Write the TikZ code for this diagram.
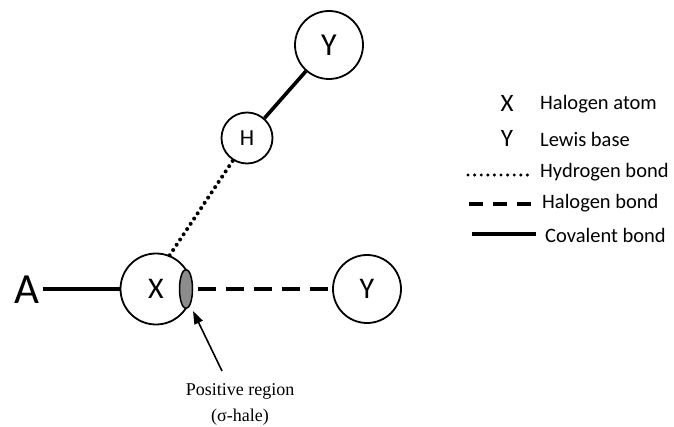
\documentclass[tikz,border=0pt]{standalone}
\usepackage{fontspec}
\setmainfont{Liberation Serif}
\newfontfamily\lbl{Carlito}
\usetikzlibrary{shapes.geometric,arrows.meta}
\begin{document}
\begin{tikzpicture}[x=1pt,y=-1pt,
  atom/.style={circle,draw,line width=1.8pt,inner sep=0pt,font=\lbl\fontsize{30}{32}\selectfont},
  bond/.style={line width=3.6pt},
  hbond/.style={line width=4pt,dash pattern=on 0pt off 6.3pt,line cap=round},
  xbond/.style={line width=3.8pt,dash pattern=on 18pt off 10pt},
  legtext/.style={anchor=west,font=\lbl\fontsize{20.5}{22}\selectfont,inner sep=0pt},
  legsym/.style={font=\lbl\fontsize{25}{27}\selectfont,inner sep=0pt}]
\useasboundingbox (0,0) rectangle (674,427);

% atoms
\node[font=\lbl\fontsize{43}{45}\selectfont,inner sep=0pt] (A) at (27,290) {A};
\node[atom,minimum size=71pt] (X) at (156,289) {X};
\node[atom,minimum size=68pt] (Yr) at (367,289) {Y};
\node[atom,minimum size=51pt,font=\lbl\fontsize{23}{25}\selectfont] (H) at (247,138) {H};
\node[atom,minimum size=68pt,font=\lbl\fontsize{32}{34}\selectfont] (Yt) at (329,45) {Y};

% sigma hole
\node[ellipse,draw,line width=1.5pt,fill=black!45,minimum width=13pt,minimum height=39pt,inner sep=0pt] (hole) at (186,289) {};

% bonds
\coordinate (Aend) at ([xshift=3pt]A.east);
\draw[bond] (Aend |- X.west) -- (X.west);
\draw[hbond] (X.68) -- (H.238);
\draw[bond] (H) -- (Yt);
\draw[xbond] ([xshift=5pt]hole.east) -- (Yr.west);

% pointer to the positive region
\coordinate (tail) at (222,371);
\coordinate (tip) at (193,311);
\draw[line width=1.6pt,-{Triangle[length=13pt,width=9pt]}] (tail) -- (tip);
\node[font=\fontsize{18}{20}\selectfont] (cap1) at (240,391) {Positive region};
\node[font=\fontsize{18}{20}\selectfont] (cap2) at (240,417) {(σ-hale)};

% legend
\node[legsym] (lx) at (507,103) {X};
\node[legtext] (tx) at (540,104) {Halogen atom};
\node[legsym] (ly) at (507,138) {Y};
\node[legtext] (ty) at (540,139) {Lewis base};
\node[legtext] (th) at (540,172) {Hydrogen bond};
\node[legtext] (tb) at (542,203) {Halogen bond};
\node[legtext] (tc) at (545,235) {Covalent bond};
\coordinate (h1) at (468,175); \coordinate (h2) at (529,175);
\coordinate (b1) at (469,204); \coordinate (b2) at (532,204);
\coordinate (c1) at (472,234); \coordinate (c2) at (536,234);
\draw[line width=3.4pt,dash pattern=on 0pt off 6.6pt,line cap=round] (h1) -- (h2);
\draw[line width=3.6pt,dash pattern=on 14pt off 10pt] (b1) -- (b2);
\draw[bond] (c1) -- (c2);
\end{tikzpicture}
\end{document}
